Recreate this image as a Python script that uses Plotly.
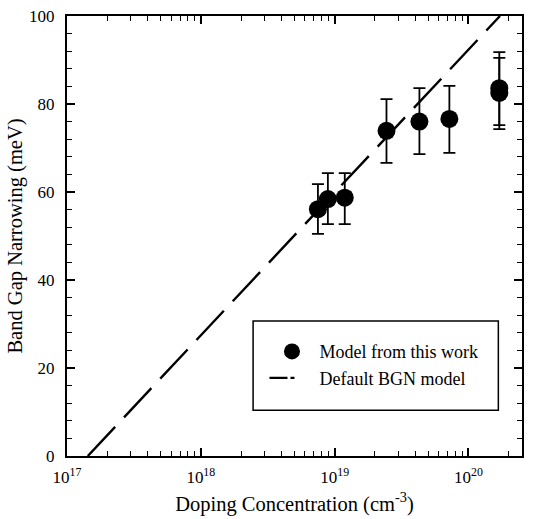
import plotly.graph_objects as go

# Data
conc = [7.5e18, 8.9e18, 1.19e19, 2.44e19, 4.3e19, 7.2e19, 1.7e20, 1.7e20]
bgn = [56.1, 58.4, 58.7, 73.9, 76.0, 76.6, 83.6, 82.5]
err_plus = [5.7, 5.9, 5.6, 7.2, 7.6, 7.5, 8.2, 8.0]
err_minus = [5.6, 5.7, 6.0, 7.3, 7.4, 7.7, 8.4, 8.2]

default_conc = [1.43e17, 1.72e20]
default_bgn = [0.0, 100.0]

xtick_vals = [1e17, 1e18, 1e19, 1e20]
xtick_text = ["10<sup>17</sup>", "10<sup>18</sup>", "10<sup>19</sup>", "10<sup>20</sup>"]

FONT = "Liberation Serif, Times New Roman, serif"

fig = go.Figure()
fig.add_trace(go.Scatter(
    x=conc, y=bgn, mode="markers", name="Model from this work",
    marker=dict(size=18, color="black"),
    error_y=dict(type="data", array=err_plus, arrayminus=err_minus,
                 color="black", thickness=1.8, width=6, visible=True),
    legendgroup="a",
))
fig.add_trace(go.Scatter(
    x=default_conc, y=default_bgn, mode="lines", name="Default BGN model",
    line=dict(color="black", width=2.4, dash="40px,13px"),
    showlegend=False,
))
# legend-only entry for the dashed model line (legend sample "— -")
fig.add_trace(go.Scatter(
    x=[None], y=[None], mode="lines", name="Default BGN model",
    line=dict(color="black", width=2.4, dash="18px,3px,4px,100px"),
    legendgroup="b",
))

axis_common = dict(
    showline=True, linecolor="black", linewidth=2, mirror="ticks",
    ticks="inside", tickcolor="black", tickwidth=1.5, ticklen=8,
    showgrid=False, zeroline=False, automargin=False,
    tickfont=dict(family=FONT, size=17, color="black"),
)

fig.update_xaxes(
    type="log", range=[17, 20.4],
    tickvals=xtick_vals, ticktext=xtick_text,
    ticklabelstandoff=5,
    minor=dict(ticks="inside", ticklen=5, tickwidth=1.2, tickcolor="black",
               dtick="D1", showgrid=False),
    title=dict(text="Doping Concentration (cm<sup>-3</sup>)",
               font=dict(family=FONT, size=20.5, color="black"), standoff=10),
    **axis_common,
)
fig.update_yaxes(
    range=[0, 100], dtick=20,
    ticklabelstandoff=7,
    minor=dict(ticks="inside", ticklen=5, tickwidth=1.2, tickcolor="black",
               dtick=4, showgrid=False),
    title=dict(text="Band Gap Narrowing (meV)",
               font=dict(family=FONT, size=20.5, color="black"), standoff=1),
    **axis_common,
)

fig.update_layout(
    width=544, height=519,
    margin=dict(l=67, r=22, t=16, b=63),
    paper_bgcolor="white", plot_bgcolor="white",
    showlegend=True,
    legend=dict(x=0.434, y=0.279, xanchor="left", yanchor="top",
                bgcolor="rgba(0,0,0,0)", borderwidth=0,
                font=dict(family=FONT, size=18, color="black"),
                itemsizing="trace", itemwidth=45,
                traceorder="grouped", tracegroupgap=0),
    shapes=[dict(type="rect", xref="paper", yref="paper",
                 x0=0.409, x1=0.948, y0=0.104, y1=0.307,
                 line=dict(color="black", width=1.5), fillcolor="white",
                 layer="below")],
)

fig.write_html("out.html")
